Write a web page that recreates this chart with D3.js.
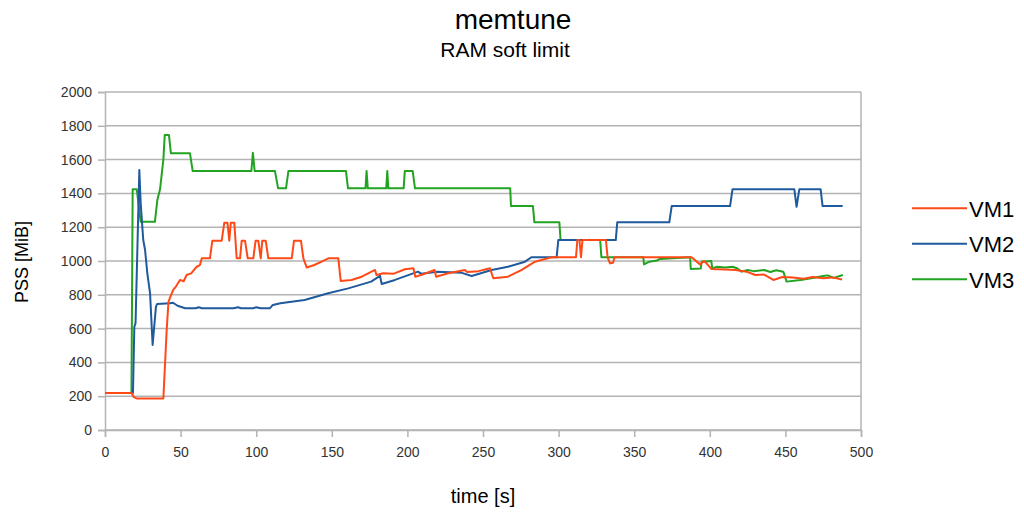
<!DOCTYPE html>
<html>
<head>
<meta charset="utf-8">
<script src="https://cdn.jsdelivr.net/npm/d3@7/dist/d3.min.js"></script>
<style>
  html, body { margin: 0; padding: 0; background: #fff; }
  svg { display: block; font-family: "Liberation Sans", Arial, sans-serif; }
</style>
</head>
<body>
<svg id="chart" width="1024" height="513"></svg>
<script>
// ---- data ----
const seriesNames = ["VM1", "VM2", "VM3"];
const xTicks = [0, 50, 100, 150, 200, 250, 300, 350, 400, 450, 500];
const yTicks = [0, 200, 400, 600, 800, 1000, 1200, 1400, 1600, 1800, 2000];

const vm1Time = [0, 17.6, 19, 21, 38.6, 40.8, 42, 45, 47, 49.6, 52, 54, 57, 60.6, 62.8, 64, 69.4, 71, 77.2, 78.9, 81, 82.2, 83.2, 85.5, 87.1, 89.3, 90.4, 92.6, 94.4, 98.1, 99.6, 101.4, 103, 104, 106.3, 108, 123.5, 125, 129.6, 131.2, 133.4, 138, 143.3, 147.7, 154.3, 155.9, 163, 169.8, 178.6, 179.5, 184, 191, 198.4, 204, 205.2, 210, 218, 219, 227, 238, 239.5, 247, 254.6, 256.8, 266.5, 275.6, 284.4, 295.4, 311.5, 312.4, 313.8, 314.8, 315.8, 331.3, 332.4, 334, 336, 337, 388, 393.5, 396, 398, 401, 410, 417, 424.4, 430, 436, 442, 448, 455, 462, 468, 475, 481, 487.5];
const vm1Pss  = [219, 219, 195, 187, 187, 592, 760, 828, 850, 888, 880, 917, 927, 966, 976, 1016, 1016, 1120, 1120, 1227, 1227, 1120, 1227, 1227, 1016, 1016, 1120, 1120, 1016, 1016, 1120, 1120, 1016, 1120, 1120, 1016, 1016, 1120, 1120, 1016, 962, 975, 996, 1016, 1016, 882, 888, 907, 947, 917, 927, 925, 951, 957, 907, 920, 947, 907, 927, 947, 935, 940, 957, 898, 907, 947, 996, 1022, 1022, 1124, 1124, 1022, 1124, 1124, 1022, 986, 990, 1022, 1022, 980, 1000, 985, 953, 950, 947, 937, 917, 920, 888, 905, 903, 895, 905, 898, 903, 891];

const vm2Time = [0, 18.5, 19.4, 20.2, 22.7, 23.6, 25.3, 26.5, 28, 29.8, 31.5, 33.7, 34.5, 43, 45, 48, 53, 60, 62, 64, 85, 88, 90, 98, 100, 103, 109, 111, 116, 132, 147.6, 160.9, 176, 181.9, 183, 191.8, 207, 209, 220, 236, 242.5, 255.7, 266.5, 277.8, 282, 298.7, 299.8, 337.8, 338.8, 373.2, 374.8, 413.4, 415, 455.9, 457.4, 459.2, 473.3, 474.6, 487.9];
const vm2Pss  = [219, 219, 611, 631, 1538, 1341, 1124, 1065, 927, 809, 503, 730, 746, 750, 753, 735, 720, 720, 726, 720, 720, 726, 720, 720, 726, 720, 720, 740, 750, 769, 809, 838, 878, 912, 864, 888, 937, 925, 937, 930, 911, 947, 966, 996, 1022, 1022, 1124, 1124, 1229, 1229, 1325, 1325, 1424, 1424, 1321, 1424, 1424, 1325, 1325];

const vm3Time = [0, 17.5, 18.3, 21, 23.6, 33, 34.6, 36.4, 38.6, 39.5, 42.3, 43.6, 56.2, 58, 96.8, 97.8, 99, 112.4, 114.5, 119.7, 121.3, 159.4, 160.7, 172.3, 173, 173.8, 186, 186.7, 187.4, 197.5, 198.3, 203.5, 205, 268, 268.5, 283, 284, 300.5, 301.3, 327.5, 328.3, 356, 356.5, 360, 365, 367, 387, 387.4, 394, 394.6, 401, 401.6, 405, 410, 415, 418, 421, 425, 429, 436, 440, 444, 448.6, 450.8, 460, 470, 475, 478, 482, 488];
const vm3Pss  = [219, 219, 1424, 1424, 1232, 1232, 1361, 1424, 1600, 1745, 1745, 1637, 1637, 1532, 1532, 1640, 1532, 1532, 1430, 1430, 1532, 1532, 1430, 1430, 1532, 1430, 1430, 1532, 1430, 1430, 1532, 1532, 1430, 1430, 1325, 1325, 1229, 1229, 1124, 1124, 1022, 1022, 980, 996, 1003, 1012, 1022, 953, 955, 996, 1000, 957, 966, 962, 966, 957, 937, 947, 940, 947, 935, 945, 937, 878, 888, 903, 911, 915, 900, 917];

const seriesColors = ["#ff4a17", "#1f5a9c", "#22a322"];

// ---- layout ----
const svg = d3.select("#chart");
const plot = { left: 105, right: 861, top: 92, bottom: 430 };

const x = d3.scaleLinear().domain([0, 500]).range([plot.left, plot.right]);
const y = d3.scaleLinear().domain([0, 2000]).range([plot.bottom, plot.top]);

const gridColor = "#b3b3b3";

// horizontal grid
svg.append("g")
  .selectAll("line")
  .data(yTicks)
  .join("line")
  .attr("x1", plot.left).attr("x2", plot.right)
  .attr("y1", d => y(d)).attr("y2", d => y(d))
  .attr("stroke", gridColor).attr("stroke-width", 1.5);

// right border
svg.append("line")
  .attr("x1", plot.right).attr("x2", plot.right)
  .attr("y1", plot.top).attr("y2", plot.bottom)
  .attr("stroke", gridColor).attr("stroke-width", 1.5);

// axes
const xAxis = d3.axisBottom(x).tickValues(xTicks).tickSize(7).tickPadding(10).tickFormat(d3.format("d"));
const yAxis = d3.axisLeft(y).tickValues(yTicks).tickSize(7).tickPadding(6).tickFormat(d3.format("d"));

const gx = svg.append("g").attr("transform", `translate(0,${plot.bottom})`).call(xAxis);
const gy = svg.append("g").attr("transform", `translate(${plot.left},0)`).call(yAxis);
[gx, gy].forEach(g => {
  g.select(".domain").attr("stroke", gridColor).attr("stroke-width", 1.5);
  g.selectAll(".tick line").attr("stroke", gridColor).attr("stroke-width", 1.5);
  g.selectAll(".tick text").attr("fill", "#333").style("font-size", "14px");
});

// series lines (green bottom, blue, orange top)
const series = [
  { name: seriesNames[0], t: vm1Time, v: vm1Pss, color: seriesColors[0] },
  { name: seriesNames[1], t: vm2Time, v: vm2Pss, color: seriesColors[1] },
  { name: seriesNames[2], t: vm3Time, v: vm3Pss, color: seriesColors[2] }
];
const line = d3.line().x(d => x(d[0])).y(d => y(d[1]));
[2, 1, 0].forEach(i => {
  const s = series[i];
  svg.append("path")
    .datum(s.t.map((t, k) => [t, s.v[k]]))
    .attr("d", line)
    .attr("fill", "none")
    .attr("stroke", s.color)
    .attr("stroke-width", 2)
    .attr("stroke-linejoin", "round");
});

// titles
svg.append("text").attr("x", 513).attr("y", 29).attr("text-anchor", "middle")
  .style("font-size", "28px").attr("fill", "#000").text("memtune");
svg.append("text").attr("x", 505).attr("y", 57).attr("text-anchor", "middle")
  .style("font-size", "21px").attr("fill", "#000").text("RAM soft limit");

// axis titles
svg.append("text").attr("x", 483).attr("y", 503).attr("text-anchor", "middle")
  .style("font-size", "20px").attr("fill", "#000").text("time [s]");
svg.append("text").attr("transform", "translate(28,262) rotate(-90)").attr("text-anchor", "middle")
  .style("font-size", "18px").attr("fill", "#000").text("PSS [MiB]");

// legend
const legend = svg.append("g");
series.forEach((s, i) => {
  const ly = 208.3 + i * 35.5;
  legend.append("line").attr("x1", 912).attr("x2", 967).attr("y1", ly).attr("y2", ly)
    .attr("stroke", s.color).attr("stroke-width", 2);
  legend.append("text").attr("x", 969).attr("y", ly + 8.4)
    .style("font-size", "22px").attr("fill", "#000").text(s.name);
});
</script>
</body>
</html>
